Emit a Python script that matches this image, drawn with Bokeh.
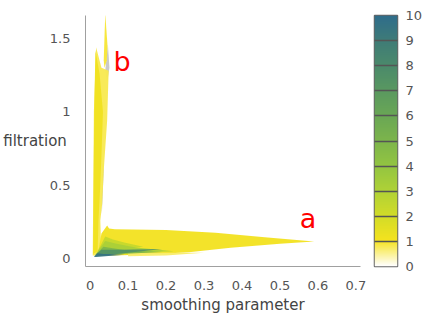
import numpy as np
from bokeh.plotting import figure
from bokeh.models import ColumnDataSource, LinearColorMapper, FixedTicker, Range1d
from bokeh.layouts import row
from bokeh.embed import file_html
from bokeh.resources import INLINE
from bokeh.core.properties import value

FONT = "DejaVu Sans"

# ---------------- data ----------------
x_ticks = [0, 0.1, 0.2, 0.3, 0.4, 0.5, 0.6, 0.7]
x_tick_labels = ["0", "0.1", "0.2", "0.3", "0.4", "0.5", "0.6", "0.7"]
y_ticks = [0, 0.5, 1, 1.5]
y_tick_labels = ["0", "0.5", "1", "1.5"]
cbar_ticks = [0, 1, 2, 3, 4, 5, 6, 7, 8, 9, 10]
cbar_colors = ["#ffffff", "#f6e31e", "#d2dc28", "#b0d236", "#93c541", "#7db54b",
               "#6aa755", "#5a9960", "#4b8a6b", "#3f7c77", "#2f6d8b"]

# filled regions (level, outline)
region_levels = [0.8, 1.2, 0.9, 1.1, 0.7, 2.4, 3.2, 5.0, 7.5, 9.6]
region_xs = [
    [0.007, 0.010, 0.016, 0.030, 0.049, 0.045, 0.036, 0.032, 0.027, 0.030, 0.007],
    [0.008, 0.011, 0.014, 0.025, 0.034, 0.030, 0.026, 0.022, 0.020, 0.008],
    [0.036, 0.040, 0.046, 0.044, 0.038],
    [0.030, 0.045, 0.050, 0.065, 0.200, 0.330, 0.460, 0.590, 0.500, 0.370, 0.260, 0.150, 0.060, 0.020],
    [0.100, 0.300, 0.200, 0.100],
    [0.020, 0.040, 0.060, 0.090, 0.140, 0.080, 0.030],
    [0.015, 0.040, 0.070, 0.120, 0.220, 0.100],
    [0.015, 0.035, 0.060, 0.100, 0.190, 0.080],
    [0.012, 0.030, 0.080, 0.190, 0.100, 0.040],
    [0.010, 0.020, 0.035, 0.050, 0.090, 0.040, 0.015],
]
region_ys = [
    [0.02, 1.00, 1.44, 1.30, 1.28, 0.94, 0.60, 0.375, 0.26, 0.02, 0.02],
    [0.03, 1.00, 1.42, 1.26, 1.00, 0.70, 0.45, 0.25, 0.05, 0.03],
    [1.35, 1.67, 1.45, 1.35, 1.30],
    [0.17, 0.225, 0.205, 0.200, 0.195, 0.175, 0.145, 0.116, 0.100, 0.073, 0.043, 0.027, 0.020, 0.020],
    [0.040, 0.040, 0.020, 0.015],
    [0.05, 0.15, 0.13, 0.11, 0.08, 0.06, 0.04],
    [0.030, 0.120, 0.100, 0.075, 0.050, 0.040],
    [0.025, 0.080, 0.070, 0.055, 0.045, 0.030],
    [0.020, 0.060, 0.060, 0.065, 0.040, 0.022],
    [0.012, 0.035, 0.030, 0.030, 0.025, 0.015, 0.010],
]
shadow_xs = [[0.040, 0.047, 0.051, 0.045], [0.030, 0.034, 0.036, 0.031]]
shadow_ys = [[1.28, 1.46, 1.30, 1.20], [0.40, 0.70, 0.60, 0.30]]

label_x = [0.552, 0.062]
label_y = [0.271, 1.343]
label_text = ["a", "b"]

# ---------------- colour mapping ----------------
def hex2rgb(h):
    return np.array([int(h[i:i + 2], 16) for i in (1, 3, 5)], dtype=float)

anchors = np.array([hex2rgb(c) for c in cbar_colors])
pos = np.linspace(0, 10, 256)
palette = []
for t in pos:
    r = [np.interp(t, cbar_ticks, anchors[:, k]) for k in range(3)]
    palette.append("#%02x%02x%02x" % tuple(int(round(v)) for v in r))
mapper = LinearColorMapper(palette=palette, low=0, high=10)

# ---------------- main plot ----------------
p = figure(width=368, height=316,
           x_range=Range1d(-0.012, 0.712), y_range=Range1d(-0.0545, 1.657),
           min_border_left=84, min_border_right=8, min_border_top=15, min_border_bottom=50,
           toolbar_location=None, output_backend="svg")
p.grid.visible = False
p.outline_line_color = None
p.background_fill_color = "white"

p.patches(xs=shadow_xs, ys=shadow_ys, fill_color="#b4b4b4", fill_alpha=0.7, line_color=None)
src = ColumnDataSource(dict(xs=region_xs, ys=region_ys, level=region_levels))
p.patches("xs", "ys", source=src, fill_color={"field": "level", "transform": mapper},
          line_color=None, fill_alpha=0.95)

p.text(x=label_x, y=label_y, text=label_text, text_color="#ff0000",
       text_font=value(FONT), text_font_size="27px", text_align="left",
       text_baseline="alphabetic")

for ax, ticks, labels in ((p.xaxis[0], x_ticks, x_tick_labels), (p.yaxis[0], y_ticks, y_tick_labels)):
    ax.ticker = FixedTicker(ticks=ticks)
    ax.major_label_overrides = {t: l for t, l in zip(ticks, labels)}
    ax.major_tick_line_color = None
    ax.minor_tick_line_color = None
    ax.axis_line_color = "#a0a0a0"
    ax.major_label_text_font = FONT
    ax.major_label_text_font_size = "13px"
    ax.major_label_text_color = "#555555"
    ax.axis_label_text_font = FONT
    ax.axis_label_text_font_size = "15px"
    ax.axis_label_text_font_style = "normal"
    ax.axis_label_text_color = "#444444"

p.xaxis.major_label_standoff = 8
p.xaxis.axis_label = "smoothing parameter"
p.xaxis.axis_label_standoff = 3

p.yaxis.major_label_standoff = 9
p.yaxis.axis_label = "filtration"
p.yaxis.axis_label_orientation = "horizontal"
p.yaxis.axis_label_standoff = -20

# ---------------- colour bar ----------------
cb = figure(width=57, height=316, x_range=Range1d(0, 1), y_range=Range1d(0, 10),
            y_axis_location="right", min_border_left=6, min_border_right=17,
            min_border_top=5, min_border_bottom=48,
            toolbar_location=None, output_backend="svg")
grad = np.linspace(0, 10, 256).reshape(256, 1)
cb.image(image=[grad], x=0, y=0, dw=1, dh=10, color_mapper=mapper)
cb.xaxis.visible = False
cb.xgrid.visible = False
cb.ygrid.ticker = FixedTicker(ticks=cbar_ticks)
cb.ygrid.grid_line_color = "#555555"
cb.ygrid.grid_line_width = 1.5
cb.ygrid.level = "overlay"
cb.outline_line_color = "#666666"
cb.outline_line_width = 1.5
cb.yaxis.ticker = FixedTicker(ticks=cbar_ticks)
cb.yaxis.major_tick_line_color = None
cb.yaxis.minor_tick_line_color = None
cb.yaxis.axis_line_color = None
cb.yaxis.major_label_standoff = 2
cb.yaxis.major_label_text_font = FONT
cb.yaxis.major_label_text_font_size = "13px"
cb.yaxis.major_label_text_color = "#555555"

layout = row(p, cb)
open("out.html", "w").write(file_html(layout, INLINE))
